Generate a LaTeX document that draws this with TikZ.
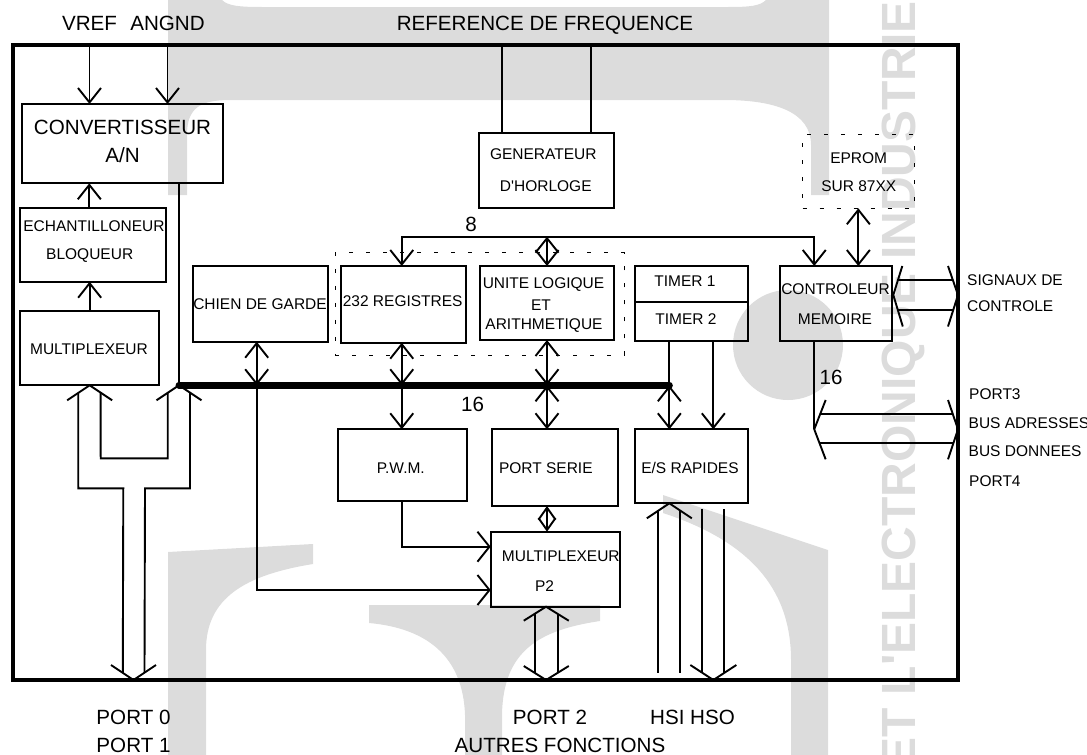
\documentclass[tikz,border=0pt]{standalone}
\usepackage{fontspec}
\setmainfont{Liberation Sans}[Ligatures=TeXOff]
\usetikzlibrary{arrows.meta,calc}
\definecolor{wm}{RGB}{220,220,220}

\begin{document}
\begin{tikzpicture}[x=1pt,y=-1pt,
  box/.style={draw,line width=2pt,inner sep=0pt,outer sep=0pt},
  dotbox/.style={draw,line width=1pt,dash pattern=on 4pt off 13pt,inner sep=0pt,outer sep=0pt},
  frm/.style={draw,line width=4pt,inner sep=0pt,outer sep=0pt},
  big/.style={font=\fontsize{20.6}{24}\selectfont,inner sep=0pt,anchor=base},
  small/.style={font=\fontsize{15.5}{18}\selectfont,inner sep=0pt,anchor=base},
  side/.style={small,anchor=base west},
  wire/.style={line width=1.9pt},
  bus/.style={line width=7pt,line cap=round},
  tipV/.tip={Straight Barb[length=14.5pt,width=23pt]},
  tipH/.tip={Straight Barb[length=12pt,width=30pt]},
  tipS/.tip={Straight Barb[length=12pt,width=17pt]},
  arr/.style={wire,-tipV},
  darr/.style={wire,tipV-tipV},
  harr/.style={wire,-tipH},
  sdarr/.style={wire,tipS-tipS},
  wmark/.style={fill=wm,draw=none}]

\useasboundingbox (0,0) rectangle (1087,755);

% ---------- background logo ----------
\begin{scope}
\clip (0,0) rectangle (1087,755);
\fill[wmark] (168,0) -- (222,0) .. controls (228,6) and (240,7) .. (262,7) -- (728,7)
  .. controls (750,7) and (760,6) .. (766,0) -- (829,0) -- (829,195) -- (811,195) -- (811,145)
  .. controls (811,112) and (775,100) .. (724,100) -- (230,100)
  .. controls (200,100) and (187,108) .. (187,135) -- (187,195) -- (168,195) -- cycle;
\fill[wmark] (788,345) circle[radius=55pt];
\fill[wmark] (168,552) -- (313,544) -- (313,564) .. controls (245,575) and (206,598) .. (206,650)
  -- (206,755) -- (168,755) -- cycle;
\fill[wmark] (369,605) -- (600,605) -- (600,621) .. controls (540,630) and (503,650) .. (502,715)
  -- (502,755) -- (465,755) -- (465,715) .. controls (463,655) and (425,628) .. (369,623) -- cycle;
\fill[wmark] (663,495) -- (828,550) -- (828,755) -- (791,755) -- (791,660)
  .. controls (791,585) and (745,540) .. (663,513) -- cycle;
\node[rotate=90,anchor=base west,inner sep=0pt,text=wm,
      font=\bfseries\fontsize{48}{48}\selectfont] (wmtext) at (915,770) {ET L'ELECTRONIQUE INDUSTRIE};
\end{scope}

% ---------- chip outline ----------
\node[frm,minimum width=945.5pt,minimum height=634.7pt] (frame) at (485.25,362.65) {};

% ---------- blocks ----------
\node[box,minimum width=201pt,minimum height=79.3pt] (conv) at (122.5,143.65) {};
\node[box,minimum width=146pt,minimum height=73.4pt] (echant) at (93,245) {};
\node[box,minimum width=139.3pt,minimum height=74.6pt] (mux1) at (89.65,348) {};
\node[box,minimum width=135.6pt,minimum height=75.7pt] (chien) at (260.5,303.85) {};
\node[dotbox,minimum width=289.3pt,minimum height=102.3pt] (cpu) at (479.65,303.85) {};
\node[box,minimum width=124.7pt,minimum height=76.7pt] (reg) at (403.35,304.35) {};
\node[box,minimum width=134pt,minimum height=74pt] (alu) at (547,303) {};
\node[box,minimum width=112.7pt,minimum height=35.7pt] (tim1) at (691.35,283.85) {};
\node[box,minimum width=112.7pt,minimum height=39.3pt] (tim2) at (691.35,321.35) {};
\node[box,minimum width=112.3pt,minimum height=75pt] (ctrl) at (836.15,303.5) {};
\node[box,minimum width=134.7pt,minimum height=75pt] (gen) at (546.65,170.8) {};
\node[dotbox,minimum width=111.3pt,minimum height=74.3pt] (eprom) at (858.35,171.15) {};
\node[box,minimum width=129pt,minimum height=71.4pt] (pwm) at (402.2,465) {};
\node[box,minimum width=126.6pt,minimum height=76.7pt] (serie) at (555,467.65) {};
\node[box,minimum width=112.7pt,minimum height=74pt] (esr) at (691.35,466.3) {};
\node[box,minimum width=129.3pt,minimum height=75pt] (mux2) at (555.35,569.2) {};

% ---------- block texts ----------
\node[big] (convA) at (122.5,134.8) {CONVERTISSEUR};
\node[big] (convB) at (122.5,162.8) {A/N};
\node[small] (echA) at (94,231.5) {ECHANTILLONEUR};
\node[small] (echB) at (89.7,259.8) {BLOQUEUR};
\node[small] (mux1T) at (89,354) {MULTIPLEXEUR};
\node[small] (chienT) at (260,309.5) {CHIEN DE GARDE};
\node[small] (regT) at (402.7,306.5) {232 REGISTRES};
\node[small] (aluA) at (543.5,288) {UNITE LOGIQUE};
\node[small] (aluB) at (541,310) {ET};
\node[small] (aluC) at (544,329) {ARITHMETIQUE};
\node[small] (tim1T) at (685,286.7) {TIMER 1};
\node[small] (tim2T) at (686,324.5) {TIMER 2};
\node[small] (ctrlA) at (835.5,294.5) {CONTROLEUR};
\node[small] (ctrlB) at (835,324.5) {MEMOIRE};
\node[small] (genA) at (543.3,159.5) {GENERATEUR};
\node[small] (genB) at (545.8,191.5) {D'HORLOGE};
\node[small] (epromA) at (858.7,163) {EPROM};
\node[small] (epromB) at (858.8,191.5) {SUR 87XX};
\node[small] (pwmT) at (400.8,473.5) {P.W.M.};
\node[small] (serieT) at (545.8,473.5) {PORT SERIE};
\node[small] (esrT) at (690,473.5) {E/S RAPIDES};
\node[small] (mux2A) at (560.8,561.5) {MULTIPLEXEUR};
\node[small] (mux2B) at (544.5,591.5) {P2};

% ---------- outside labels ----------
\node[big] (vref) at (89.5,30.5) {VREF};
\node[big] (angnd) at (167.5,30.5) {ANGND};
\node[big] (reffreq) at (545,30.5) {REFERENCE DE FREQUENCE};
\node[big] (port0) at (133.5,724.3) {PORT 0};
\node[big] (port1) at (133.5,752.6) {PORT 1};
\node[big] (port2) at (550,724.3) {PORT 2};
\node[big] (hsihso) at (692.5,724.3) {HSI HSO};
\node[big] (autres) at (560,752.6) {AUTRES FONCTIONS};
\node[side] (sigA) at (967,285.2) {SIGNAUX DE};
\node[side] (sigB) at (967,311.8) {CONTROLE};
\node[side] (port3) at (969,399) {PORT3};
\node[side] (busadr) at (968.5,428) {BUS ADRESSES};
\node[side] (busdon) at (968.5,456.5) {BUS DONNEES};
\node[side] (port4) at (969,486) {PORT4};

% bus widths
\node[big] (w8) at (471,231.8) {8};
\node[big] (w16) at (472.5,411.5) {16};
\node[big] (w16m) at (831,384.5) {16};

% ---------- reference and clock inputs ----------
\draw[arr] (vref.south |- frame.north) -- (vref.south |- conv.north);
\draw[arr] (angnd.south |- frame.north) -- (angnd.south |- conv.north);
\coordinate (ck1) at ($(gen.north)+(-44.7,0)$);
\coordinate (ck2) at ($(gen.north)+(44.1,0)$);
\draw[wire] (ck1) -- (ck1 |- frame.north);
\draw[wire] (ck2) -- (ck2 |- frame.north);

% ---------- internal 16-bit bus ----------
\coordinate (cvX) at ($(conv.south)+(56.5,0)$);
\coordinate (busL) at (cvX |- mux1.south);
\coordinate (tmX) at ($(tim2.south)+(-22,0)$);
\coordinate (busR) at (tmX |- busL);
\draw[wire] (cvX) -- (busL);
\draw[wire] (tmX) -- (busR);

% analog chain
\coordinate (shX) at ($(echant.north)+(-3.7,0)$);
\draw[arr] (shX) -- (shX |- conv.south);
\draw[arr] (mux1.north) -- (mux1.north |- echant.south);

% watchdog
\coordinate (wdX) at ($(chien.south)+(-3.8,0)$);
\coordinate (wdY) at ($(mux2.west)+(0,20.8)$);
\draw[darr] (wdX) -- (wdX |- busL);
\draw[harr] (wdX |- busL) -- (wdX |- wdY) -- (wdY);

% registers and ALU
\coordinate (rgX) at ($(reg.south)+(-1.6,0)$);
\draw[darr] (rgX) -- (rgX |- busL);
\draw[arr] (rgX |- busL) -- (rgX |- pwm.north);
\draw[darr] (alu.south) -- (alu.south |- busL);
\draw[darr] (alu.south |- busL) -- (alu.south |- serie.north);
\draw[sdarr] (alu.south |- serie.south) -- (alu.south |- mux2.north);

% timers
\draw[darr] (busR) -- (busR |- esr.north);
\coordinate (tm2X) at ($(tim2.south)+(22,0)$);
\draw[arr] (tm2X) -- (tm2X |- esr.north);

% 8-bit bus
\coordinate (ctX) at ($(ctrl.south)+(-21.9,0)$);
\coordinate (b8) at ($(gen.south)+(0,28.4)$);
\draw[darr] (rgX |- reg.north) -- (rgX |- b8) -- (ctX |- b8) -- (ctX |- ctrl.north);
\draw[darr] (alu.north |- b8) -- (alu.north);
\draw[darr] (eprom.south) -- (eprom.south |- ctrl.north);

% PWM output
\draw[harr] (pwm.south) |- ($(mux2.west)+(0,-22.5)$);

\draw[bus] (busL) -- (busR);

% ---------- port 0 / port 1 ----------
\coordinate (p0) at (port0.north |- frame.south);
\coordinate (pA1) at (78.3,488.3);
\coordinate (pA2) at (123.3,488.3);
\coordinate (pB1) at (100.7,458.3);
\coordinate (pB2) at (167.7,458.3);
\coordinate (pC1) at (190,488.3);
\coordinate (pC2) at (145,488.3);
\draw[wire] ($(mux1.south)+(-22.5,15)$) -- (mux1.south) -- ($(mux1.south)+(22.5,15)$);
\draw[wire] ($(busL)+(-22.5,15)$) -- (busL) -- ($(busL)+(22.5,15)$);
\draw[wire] ($(p0)+(-22.5,-15)$) -- (p0) -- ($(p0)+(22.5,-15)$);
\draw[wire] ($(mux1.south)+(-11.4,7.6)$) -- (pA1) -- (pA2) -- ($(p0)+(-10.7,-7.1)$);
\draw[wire] ($(mux1.south)+(11,7.3)$) -- (pB1) -- (pB2) -- ($(busL)+(-11.3,7.5)$);
\draw[wire] ($(busL)+(11,7.3)$) -- (pC1) -- (pC2) -- ($(p0)+(11,-7.3)$);

% ---------- port 2 ----------
\coordinate (m2X) at ($(mux2.south)+(-9.3,0)$);
\coordinate (p2) at (m2X |- frame.south);
\draw[wire] ($(m2X)+(-22.3,14)$) -- (m2X) -- ($(m2X)+(22.7,14)$);
\draw[wire] ($(p2)+(-22.3,-14)$) -- (p2) -- ($(p2)+(22.7,-14)$);
\draw[wire] ($(m2X)+(-11.2,7)$) -- ($(p2)+(-11.2,-7)$);
\draw[wire] ($(m2X)+(11.5,7.1)$) -- ($(p2)+(11.5,-7.1)$);

% ---------- HSI / HSO ----------
\coordinate (hsiA) at ($(esr.south)+(-22,0)$);
\coordinate (hsiB) at ($(esr.south)+(-22,169.7)$);
\coordinate (hsoA) at ($(esr.south)+(22,5.7)$);
\coordinate (hsoB) at (hsoA |- frame.south);
\draw[wire] ($(hsiA)+(-22.5,15)$) -- (hsiA) -- ($(hsiA)+(22.5,15)$);
\draw[wire] ($(hsiA)+(-11.2,7.5)$) -- ($(hsiB)+(-11.2,0)$);
\draw[wire] ($(hsiA)+(11,7.3)$) -- ($(hsiB)+(11,0)$);
\draw[wire] ($(hsoB)+(-23,-15)$) -- (hsoB) -- ($(hsoB)+(23,-15)$);
\draw[wire] ($(hsoA)+(-11,0)$) -- ($(hsoB)+(-11,-7.2)$);
\draw[wire] ($(hsoA)+(11,0)$) -- ($(hsoB)+(11,-7.2)$);

% ---------- control signals ----------
\coordinate (sigL) at ($(ctrl.east)+(1,-8.5)$);
\coordinate (sigR) at (sigL -| frame.east);
\draw[wire] ($(sigL)+(9,-29)$) -- (sigL) -- ($(sigL)+(9.5,31.5)$);
\draw[wire] ($(sigR)+(-10,-29)$) -- (sigR) -- ($(sigR)+(-10,31.5)$);
\draw[wire] ($(sigL)+(4.7,-15)$) -- ($(sigR)+(-5.2,-15)$);
\draw[wire] ($(sigL)+(4.5,15)$) -- ($(sigR)+(-4.8,15)$);

% ---------- external address / data bus ----------
\coordinate (memL) at (ctX |- esr.north);
\coordinate (memR) at (memL -| frame.east);
\draw[wire] (ctX) -- (memL);
\draw[wire] ($(memL)+(11.4,-29.3)$) -- (memL) -- ($(memL)+(11.4,30)$);
\draw[wire] ($(memR)+(-10,-29.3)$) -- (memR) -- ($(memR)+(-10,30)$);
\draw[wire] ($(memL)+(5.8,-15)$) -- ($(memR)+(-5.1,-15)$);
\draw[wire] ($(memL)+(5.4,14)$) -- ($(memR)+(-4.7,14)$);

\end{tikzpicture}
\end{document}
